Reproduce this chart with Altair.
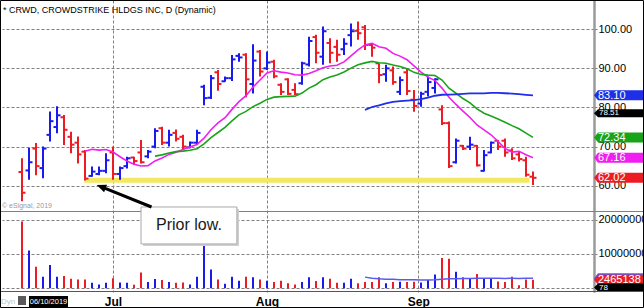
import math
import altair as alt
import pandas as pd

# ---------------- data ----------------
opens = [63.5, 63.9, 69.5, 64.5, 73.0, 75.0, 77.5, 72.5, 71.0, 68.7,
         62.5, 63.0, 63.8, 68.5, 63.0, 65.0, 67.2, 68.5, 67.5, 70.0,
         74.7, 71.0, 73.5, 72.5, 69.8, 71.0, 85.3, 82.5, 89.0, 86.7,
         87.5, 93.2, 93.5, 86.0, 94.3, 90.0, 91.7, 85.8, 87.2, 84.5,
         86.2, 91.0, 98.0, 93.0, 96.5, 95.5, 94.9, 98.5, 99.6, 100.5,
         96.0, 91.3, 88.5, 89.5, 84.0, 89.0, 82.0, 81.0, 84.0, 85.0,
         79.5, 76.0, 66.0, 70.2, 70.0, 70.2, 63.8, 68.5, 71.5, 71.5,
         69.0, 68.0, 66.5, 62.3]
highs = [67.0, 69.7, 70.9, 70.0, 79.0, 80.3, 78.1, 73.8, 72.6, 69.1,
         64.9, 64.9, 68.3, 70.0, 64.9, 67.4, 67.4, 71.7, 69.1, 74.7,
         75.1, 74.3, 74.4, 73.0, 71.3, 74.3, 85.8, 88.3, 89.6, 87.9,
         93.4, 93.9, 93.9, 96.2, 94.7, 94.3, 92.2, 86.2, 87.5, 86.2,
         91.7, 98.1, 98.6, 100.7, 97.7, 97.3, 97.7, 101.5, 102.0, 101.1,
         96.4, 91.3, 90.9, 90.5, 87.9, 90.0, 84.5, 84.0, 87.9, 87.5,
         80.6, 76.4, 72.1, 70.4, 72.5, 70.4, 69.1, 71.3, 71.7, 72.1,
         69.6, 68.7, 67.4, 63.6]
lows = [56.0, 61.5, 62.7, 61.9, 71.3, 73.4, 70.4, 68.3, 65.7, 61.3,
        62.3, 62.7, 63.2, 61.5, 61.5, 64.4, 65.3, 65.7, 67.0, 69.6,
        70.4, 70.0, 71.3, 69.1, 69.6, 70.4, 80.6, 82.2, 84.3, 86.6,
        86.8, 91.7, 82.6, 83.6, 87.9, 89.6, 87.5, 83.2, 83.2, 83.2,
        85.8, 90.5, 91.3, 90.9, 91.3, 91.7, 93.4, 95.6, 97.3, 94.7,
        93.0, 86.2, 86.6, 85.8, 83.2, 83.2, 78.9, 80.2, 82.8, 83.6,
        75.5, 64.5, 65.7, 69.1, 69.1, 64.9, 63.6, 68.3, 69.1, 67.4,
        66.6, 66.2, 62.3, 60.2]
closes = [58.2, 66.0, 65.0, 69.5, 76.5, 78.0, 74.3, 70.5, 68.0, 61.8,
          63.6, 63.8, 66.5, 63.0, 64.5, 67.0, 66.3, 66.0, 68.7, 74.0,
          71.0, 73.0, 72.0, 70.0, 71.0, 73.5, 82.4, 87.5, 86.0, 87.5,
          92.3, 92.8, 87.2, 92.0, 89.2, 91.5, 88.0, 84.0, 83.5, 83.4,
          91.3, 97.0, 94.0, 99.5, 94.0, 93.5, 96.3, 99.5, 99.0, 96.0,
          95.3, 88.3, 90.0, 86.5, 87.0, 84.2, 80.4, 83.5, 86.5, 87.2,
          76.0, 65.0, 71.5, 69.5, 70.5, 65.2, 67.8, 71.0, 70.0, 68.5,
          67.0, 66.8, 62.8, 62.02]
volumes_m = [19.5, 11.0, 6.3, 3.4, 6.8, 3.4, 3.6, 2.8, 2.6, 2.6,
             1.6, 1.1, 1.6, 2.9, 1.7, 1.6, 1.0, 4.6, 1.8, 2.7,
             2.4, 1.8, 1.6, 1.7, 1.1, 3.4, 12.9, 5.5, 2.6, 1.3,
             3.4, 2.2, 3.4, 3.2, 2.6, 2.2, 1.8, 2.2, 1.5, 1.1,
             1.8, 3.2, 2.1, 3.2, 2.8, 1.6, 1.6, 2.8, 1.5, 1.8,
             1.8, 3.2, 1.5, 1.8, 1.9, 1.8, 1.9, 1.7, 2.4, 4.0,
             8.8, 8.6, 4.8, 3.2, 2.9, 4.2, 2.9, 2.9, 2.0, 1.8,
             3.4, 0.9, 2.6, 2.465138]

month_labels = ["Jul", "Aug", "Sep"]
month_positions = [13, 35, 56.6]
price_ticks = [60, 70, 80, 90, 100]
volume_ticks = [0, 10000000, 20000000]

flag_values = [83.10, 72.34, 67.16, 62.02]
study_value = 78.51
volume_flag_label = "2465138"
volume_study_label = "78"
volume_study_value = 230000

prior_low_price = 61.4
prior_low_start = 8.9
prior_low_end = 72.5

title_text = "* CRWD, CROWDSTRIKE HLDGS INC, D (Dynamic)"
callout_text = "Prior low."
watermark_text = "\u00a9 eSignal, 2019"
date_text = "06/10/2019"

# callout geometry in data units (bar index, price)
box_x = [17.0, 30.7]
box_y = [54.55, 45.1]
arrow_tail = (18.5, 54.55)
arrow_tip = (10.67, 60.18)

# ---------------- styling ----------------
RED = "#ec1c24"
BLUE = "#1a1aee"
MAGENTA = "#f01ef0"
GREEN = "#18a418"
MA50 = "#1f2fe8"
VOLMA = "#5a5af2"
YELLOW = "#f3e862"
GRID = "#7f7f7f"
FONT = "Liberation Sans"
W, H = 592, 292
PX_PER_BAR = 7.0
PX_PER_PRICE = 3.91

# ---------------- derived table ----------------
n = len(closes)
df = pd.DataFrame({"i": list(range(n)), "open": opens, "high": highs,
                   "low": lows, "close": closes})
df["volume"] = [round(v * 1e6) for v in volumes_m]
prev_close = df["close"].shift(1).fillna(df["open"])
df["dir"] = ["up" if c > p else "down" for c, p in zip(df["close"], prev_close)]
df["sma10"] = df["close"].rolling(10).mean()
df["sma50"] = df["close"].rolling(50).mean()
ema = [float("nan")] * n
ema[19] = sum(closes[:20]) / 20
k = 2 / 21
for j in range(20, n):
    ema[j] = ema[j - 1] + k * (closes[j] - ema[j - 1])
df["ema20"] = ema
df["vol_sma50"] = df["volume"].rolling(50).mean()
df["tick_l"] = df["i"] - 0.5
df["tick_r"] = df["i"] + 0.5
df["zero"] = 0

# ---------------- scales & axes ----------------
x_scale = alt.Scale(domain=[-20 / 7, 572 / 7], nice=False, zero=False)
price_scale = alt.Scale(domain=[32.81, 107.49], nice=False, zero=False)
vol_scale = alt.Scale(domain=[-1.08e6, 84.05e6], nice=False, zero=False)

label_expr = ("[" + ",".join(f"'{m}'" for m in month_labels) + "][indexof(["
              + ",".join(str(p) for p in month_positions) + "], datum.value)]")
x_axis = alt.Axis(values=month_positions, labelExpr=label_expr, title=None,
                  grid=True, gridColor=GRID, gridDash=[3, 2], ticks=False,
                  domain=False, labelFont=FONT, labelFontSize=12,
                  labelFontWeight="bold", labelColor="#000", labelPadding=4,
                  labelFlush=False)
price_axis = alt.Axis(orient="right", values=price_ticks, format=".2f", title=None,
                      grid=True, gridColor=GRID, gridDash=[3, 2], tickSize=3,
                      tickColor=GRID, labelFont=FONT, labelFontSize=11,
                      labelColor="#000", labelPadding=1, domainColor="#9a9a9a",
                      domainWidth=2, offset=0, labelOverlap=False, labelFlush=False)
vol_axis = alt.Axis(orient="right", values=volume_ticks, title=None,
                    labelExpr="datum.value == 0 ? '' : format(datum.value, 'd')",
                    grid=True, gridColor=GRID, gridDash=[3, 2], tickSize=3,
                    tickColor=GRID, labelFont=FONT, labelFontSize=11,
                    labelColor="#000", labelPadding=1, domainColor="#9a9a9a",
                    domainWidth=2, offset=0, labelOverlap=False, labelFlush=False)


def X(f):
    return alt.X(f"{f}:Q", scale=x_scale, axis=x_axis)


def PY(f):
    return alt.Y(f"{f}:Q", scale=price_scale, axis=price_axis)


def VY(f):
    return alt.Y(f"{f}:Q", scale=vol_scale, axis=vol_axis)


color_enc = alt.Color("dir:N", scale=alt.Scale(domain=["up", "down"], range=[BLUE, RED]),
                      legend=None)
base = alt.Chart(df)
one = pd.DataFrame({"a": [0]})

BIG_FLAG = "M0,0 L0.8,-1 L10.6,-1 L10.6,1 L0.8,1 Z"
SMALL_FLAG = "M0,0 L1,-1 L13.5,-1 L13.5,1 L1,1 Z"
ARROW_HEAD = "M0,0 L1,2.4 L-1,2.4 Z"

# ---------------- volume panel ----------------
vol_bars = base.mark_rule(strokeWidth=2).encode(x=X("i"), y=VY("volume"), y2="zero",
                                               color=color_enc)
vol_ma = base.mark_line(color=VOLMA, strokeWidth=1.5).encode(x=X("i"), y=VY("vol_sma50"))
vflag_df = pd.DataFrame({"value": [df["vol_sma50"].iloc[-1], df["volume"].iloc[-1]],
                         "color": [VOLMA, RED], "label": ["", volume_flag_label]})
vflags = alt.Chart(vflag_df).mark_point(shape=BIG_FLAG, size=100, filled=True, opacity=1,
                                        strokeWidth=0).encode(
    x=alt.value(W), y=VY("value"), color=alt.Color("color:N", scale=None))
vflag_text = alt.Chart(vflag_df).mark_text(align="left", baseline="middle", font=FONT,
                                           fontSize=11, color="white", dy=0.5).encode(
    x=alt.value(W + 4), y=VY("value"), text="label:N")
vstudy_df = pd.DataFrame({"value": [volume_study_value], "label": [volume_study_label]})
vstudy = alt.Chart(vstudy_df).mark_point(shape=SMALL_FLAG, size=64, filled=True, opacity=1,
                                         strokeWidth=0, color="#000").encode(
    x=alt.value(W), y=VY("value"))
vstudy_text = alt.Chart(vstudy_df).mark_text(align="left", baseline="middle", font=FONT,
                                             fontSize=8, color="white").encode(
    x=alt.value(W + 5), y=VY("value"), text="label:N")
vol_group = alt.layer(vol_bars, vol_ma, vflags, vflag_text, vstudy, vstudy_text)

# ---------------- price panel ----------------
band_df = pd.DataFrame({"x": [prior_low_start], "x2": [prior_low_end], "y": [prior_low_price]})
band = alt.Chart(band_df).mark_rule(color=YELLOW, strokeWidth=5).encode(
    x=X("x"), x2="x2", y=PY("y"))
hl = base.mark_rule(strokeWidth=2).encode(x=X("i"), y=PY("low"), y2="high", color=color_enc)
op = base.mark_rule(strokeWidth=2).encode(x=X("tick_l"), x2="i", y=PY("open"), color=color_enc)
cl = base.mark_rule(strokeWidth=2).encode(x=X("i"), x2="tick_r", y=PY("close"), color=color_enc)
ma10 = base.mark_line(color=MAGENTA, strokeWidth=1.6).encode(x=X("i"), y=PY("sma10"))
ema_line = base.mark_line(color=GREEN, strokeWidth=1.6).encode(x=X("i"), y=PY("ema20"))
ma50 = base.mark_line(color=MA50, strokeWidth=1.8).encode(x=X("i"), y=PY("sma50"))

pflag_df = pd.DataFrame({"value": flag_values, "color": [MA50, GREEN, MAGENTA, RED]})
pflag_df["label"] = [f"{v:.2f}" for v in flag_values]
pflags = alt.Chart(pflag_df).mark_point(shape=BIG_FLAG, size=100, filled=True, opacity=1,
                                        strokeWidth=0).encode(
    x=alt.value(W), y=PY("value"), color=alt.Color("color:N", scale=None))
pflag_text = alt.Chart(pflag_df).mark_text(align="left", baseline="middle", font=FONT,
                                           fontSize=11, color="white", dy=0.5).encode(
    x=alt.value(W + 4), y=PY("value"), text="label:N")
study_df = pd.DataFrame({"value": [study_value], "label": [f"{study_value:.2f}"]})
study = alt.Chart(study_df).mark_point(shape=SMALL_FLAG, size=64, filled=True, opacity=1,
                                       strokeWidth=0, color="#000").encode(
    x=alt.value(W), y=PY("value"))
study_text = alt.Chart(study_df).mark_text(align="left", baseline="middle", font=FONT,
                                           fontSize=8, color="white").encode(
    x=alt.value(W + 5), y=PY("value"), text="label:N")

# callout
shadow_df = pd.DataFrame({"x": [box_x[0] + 0.3], "x2": [box_x[1] + 0.3],
                          "y": [box_y[0] - 0.5], "y2": [box_y[1] - 0.5]})
box_df = pd.DataFrame({"x": [box_x[0]], "x2": [box_x[1]], "y": [box_y[0]], "y2": [box_y[1]]})
shadow = alt.Chart(shadow_df).mark_rect(color="#d0d0d0").encode(
    x=X("x"), x2="x2", y=PY("y"), y2="y2")
box = alt.Chart(box_df).mark_rect(fill="#ffffff", stroke="#a8a8a8", strokeWidth=1).encode(
    x=X("x"), x2="x2", y=PY("y"), y2="y2")
ctext_df = pd.DataFrame({"x": [(box_x[0] + box_x[1]) / 2], "y": [(box_y[0] + box_y[1]) / 2],
                         "t": [callout_text]})
ctext = alt.Chart(ctext_df).mark_text(font=FONT, fontSize=16, color="#1a1a1a",
                                      baseline="middle", align="center").encode(
    x=X("x"), y=PY("y"), text="t:N")
frac = 0.1
arrow_end = (arrow_tip[0] + (arrow_tail[0] - arrow_tip[0]) * frac,
             arrow_tip[1] + (arrow_tail[1] - arrow_tip[1]) * frac)
arrow_df = pd.DataFrame({"x": [arrow_tail[0]], "y": [arrow_tail[1]],
                         "x2": [arrow_end[0]], "y2": [arrow_end[1]]})
arrow = alt.Chart(arrow_df).mark_rule(color="#000", strokeWidth=3).encode(
    x=X("x"), y=PY("y"), x2="x2", y2="y2")
dxp = (arrow_tip[0] - arrow_tail[0]) * PX_PER_BAR
dyp = -(arrow_tip[1] - arrow_tail[1]) * PX_PER_PRICE
head_angle = (math.degrees(math.atan2(dxp, -dyp)) + 360) % 360
head_df = pd.DataFrame({"x": [arrow_tip[0]], "y": [arrow_tip[1]]})
head = alt.Chart(head_df).mark_point(shape=ARROW_HEAD, size=64, filled=True, opacity=1,
                                     color="#000", strokeWidth=0, angle=head_angle).encode(
    x=X("x"), y=PY("y"))

# texts & frame
title = alt.Chart(pd.DataFrame({"t": [title_text]})).mark_text(
    align="left", baseline="middle", font=FONT, fontSize=9, color="#000").encode(
    x=alt.value(1), y=alt.value(10), text="t:N")
watermark = alt.Chart(pd.DataFrame({"t": [watermark_text]})).mark_text(
    align="left", baseline="middle", font=FONT, fontSize=7, color="#9a9a9a").encode(
    x=alt.value(0), y=alt.value(206), text="t:N")
sep = alt.Chart(one).mark_rule(color="#808080", strokeWidth=1).encode(
    x=alt.value(-2), x2=alt.value(642), y=alt.value(211.5))
bottom_line = alt.Chart(one).mark_rule(color="#555555", strokeWidth=1).encode(
    x=alt.value(-2), x2=alt.value(642), y=alt.value(291.5))
date_box = alt.Chart(one).mark_rect(color="#000").encode(
    x=alt.value(27), x2=alt.value(66), y=alt.value(296), y2=alt.value(307))
date_txt = alt.Chart(pd.DataFrame({"t": [date_text]})).mark_text(
    align="center", baseline="middle", font=FONT, fontSize=7.5, color="#fff").encode(
    x=alt.value(46.5), y=alt.value(301.5), text="t:N")
dyn_txt = alt.Chart(pd.DataFrame({"t": ["Dyn"]})).mark_text(
    align="left", baseline="middle", font=FONT, fontSize=8, color="#c4c4c4").encode(
    x=alt.value(-1), y=alt.value(301.5), text="t:N")
icon = alt.Chart(one).mark_rect(color="#5a5a5a").encode(
    x=alt.value(16), x2=alt.value(24), y=alt.value(296), y2=alt.value(305))
frame = alt.Chart(one).mark_rect(fillOpacity=0, stroke="#000", strokeWidth=1).encode(
    x=alt.value(-1.5), x2=alt.value(641.5), y=alt.value(0.5), y2=alt.value(307.5))

price_group = alt.layer(band, hl, op, cl, ma10, ema_line, ma50, title, watermark,
                        sep, bottom_line, shadow, box, ctext, arrow, head,
                        pflags, pflag_text, study, study_text,
                        date_box, date_txt, dyn_txt, icon, frame)

chart = alt.layer(vol_group, price_group).resolve_scale(y="independent").properties(
    width=W, height=H, autosize=alt.AutoSizeParams(type="none"),
    padding={"left": 2, "top": 0, "right": 50, "bottom": 16},
    background="#ffffff",
).configure_view(strokeOpacity=0)

chart.save("out.html", embed_options={"renderer": "svg", "actions": False})
